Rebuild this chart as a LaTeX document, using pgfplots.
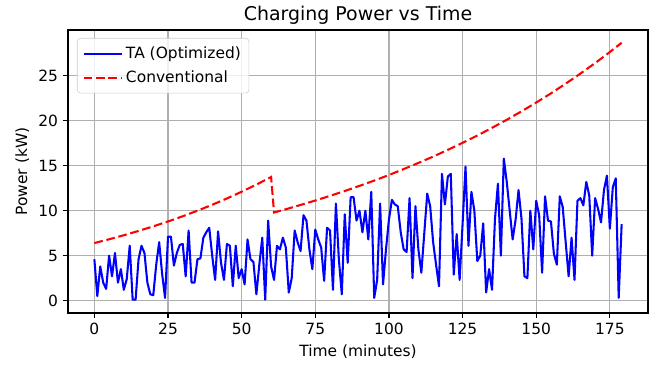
\documentclass[border=0pt]{standalone}
\usepackage{fontspec}
\setmainfont{DejaVu Sans}
\usepackage{pgfplots}
\usepackage{pgfplotstable}
\pgfplotsset{compat=1.18}

\definecolor{gridgray}{HTML}{B0B0B0}
\definecolor{legframe}{HTML}{CCCCCC}

% blue series: one reading per minute
\pgfplotstableread{
t p
0 4.6
1 0.5
2 3.8
3 2.0
4 1.3
5 5.0
6 2.7
7 5.3
8 2.0
9 3.5
10 1.2
11 2.4
12 6.1
13 0.1
14 0.1
15 4.6
16 6.1
17 5.3
18 2.0
19 0.7
20 0.6
21 4.0
22 6.5
23 3.0
24 0.3
25 7.1
26 7.1
27 3.9
28 5.3
29 6.2
30 6.3
31 2.7
32 7.8
33 2.0
34 2.0
35 4.6
36 4.7
37 7.0
38 7.6
39 8.1
40 5.0
41 2.3
42 7.7
43 4.2
44 2.3
45 6.3
46 6.1
47 1.6
48 6.1
49 2.5
50 3.5
51 1.8
52 6.8
53 4.6
54 4.3
55 0.7
56 4.0
57 7.0
58 0.1
59 8.9
60 3.8
61 2.3
62 6.1
63 5.7
64 7.0
65 5.9
66 0.9
67 2.5
68 7.8
69 6.5
70 5.5
71 9.5
72 8.9
73 5.7
74 3.5
75 7.9
76 6.8
77 5.9
78 2.2
79 8.1
80 7.8
81 1.2
82 10.8
83 4.6
84 0.7
85 9.6
86 4.2
87 11.5
88 11.5
89 8.9
90 10.0
91 7.6
92 10.0
93 6.8
94 12.1
95 0.3
96 2.3
97 10.8
98 1.8
99 5.7
100 9.0
101 11.2
102 10.7
103 10.5
104 7.6
105 5.7
106 5.4
107 11.4
108 2.5
109 10.5
110 5.7
111 3.1
112 7.5
113 11.9
114 10.5
115 6.5
116 4.0
117 1.6
118 14.1
119 10.7
120 13.8
121 14.1
122 2.9
123 7.4
124 2.3
125 8.5
126 14.9
127 6.1
128 12.1
129 10.0
130 4.4
131 5.0
132 8.6
133 0.9
134 3.5
135 1.2
136 9.1
137 13.0
138 5.0
139 15.8
140 13.2
141 10.0
142 6.8
143 9.0
144 12.3
145 9.1
146 2.7
147 2.5
148 10.0
149 5.7
150 11.1
151 9.5
152 3.1
153 11.6
154 8.9
155 8.8
156 5.2
157 4.0
158 11.6
159 10.4
160 6.5
161 2.7
162 7.0
163 2.3
164 11.1
165 11.4
166 10.6
167 13.2
168 11.7
169 5.0
170 11.4
171 10.2
172 8.7
173 12.3
174 13.9
175 8.0
176 12.6
177 13.6
178 0.3
179 8.5
}\optimized

% red series, read every 5 minutes (plus the reset at 60/61)
\pgfplotstableread{
t p
0 6.40
5 6.82
10 7.27
15 7.75
20 8.26
25 8.80
30 9.38
35 10.00
40 10.66
45 11.36
50 12.11
55 12.90
60 13.75
61 9.80
65 10.16
70 10.64
75 11.13
80 11.65
85 12.19
90 12.76
95 13.35
100 13.97
105 14.63
110 15.31
115 16.02
120 16.77
125 17.55
130 18.36
135 19.22
140 20.11
145 21.05
150 22.03
155 23.05
160 24.13
165 25.25
170 26.42
175 27.65
179 28.68
}\conventional

\begin{document}
\begin{tikzpicture}
\path[use as bounding box] (-51pt,-44.25pt) rectangle (448.5pt,234.75pt);
\begin{axis}[
  at={(0,0)}, anchor=south west,
  scale only axis,
  width=435pt, height=212.25pt,
  xmin=-8.95, xmax=187.95,
  ymin=-1.38, ymax=30.1,
  xtick={0,25,...,175},
  ytick={0,5,...,25},
  /pgf/number format/assume math mode=true,
  tick label style={font=\fontsize{11.6}{13.5}\selectfont},
  label style={font=\fontsize{11.6}{13.5}\selectfont},
  xlabel style={yshift=-1pt},
  ylabel style={yshift=0pt},
  title style={font=\fontsize{14.2}{16}\selectfont, yshift=-5pt},
  title={Charging Power vs Time},
  xlabel={Time (minutes)},
  ylabel={Power (kW)},
  grid=major,
  major grid style={gridgray, line width=0.9pt},
  axis line style={black, line width=0.9pt},
  tick style={black, line width=0.9pt},
  tick align=outside,
  major tick length=4pt,
  xtick pos=bottom, ytick pos=left,
  legend style={
    at={(0,1)}, anchor=north west, xshift=6.75pt, yshift=-6pt,
    draw=legframe, rounded corners=2.5pt, fill=white, fill opacity=0.8,
    text opacity=1, font=\fontsize{11.6}{13.5}\selectfont,
    inner xsep=4pt, inner ysep=4.5pt, row sep=3.5pt,
    cells={anchor=west}
  },
  legend image code/.code={\draw[#1] (0pt,0pt) -- (21pt,0pt);\path (0pt,0pt) -- (29pt,0pt);},
]
\addplot[blue, line width=1.55pt, line join=round] table[x=t, y=p] {\optimized};
\addlegendentry{TA (Optimized)}
\addplot[red, line width=1.55pt, dash pattern=on 6.5pt off 2.8pt] table[x=t, y=p] {\conventional};
\addlegendentry{Conventional}
\end{axis}
\end{tikzpicture}
\end{document}
